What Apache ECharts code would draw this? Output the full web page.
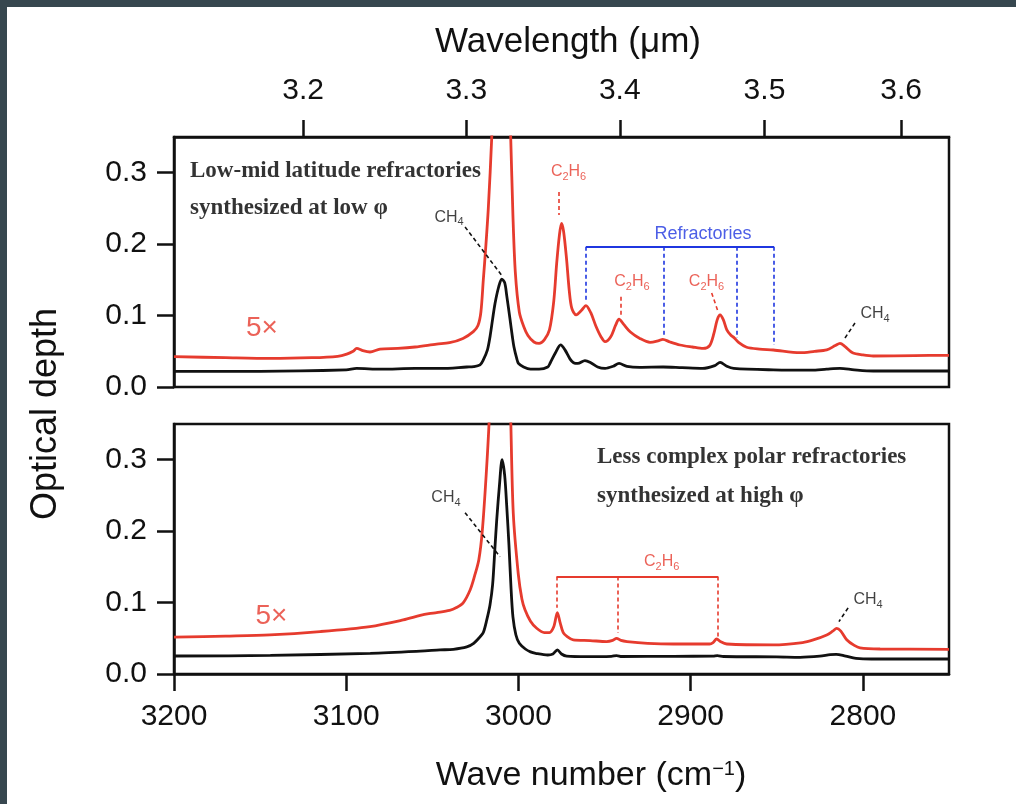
<!DOCTYPE html>
<html>
<head>
<meta charset="utf-8">
<script src="https://cdn.jsdelivr.net/npm/echarts@6.0.0/dist/echarts.min.js"></script>
<style>
  html, body { margin:0; padding:0; background:#37474f; width:1016px; height:804px; overflow:hidden; }
  #c { position:absolute; left:7px; top:7px; width:1009px; height:797px; background:#fff; }
</style>
</head>
<body>
<div id="c"></div>
<script>
// ---------- tick labels ----------
const WL_TICKS = [3.2, 3.3, 3.4, 3.5, 3.6];          // wavelength (µm), top axis
const WN_TICKS = [3200, 3100, 3000, 2900, 2800];     // wave number (cm-1), bottom axis
const OD_TICKS = [0, 0.1, 0.2, 0.3];                 // optical depth

// ---------- spectra: [wave number, optical depth] ----------
const topBlack = [[3200,0.022],[3150,0.022],[3100,0.024],[3094,0.026],[3080,0.025],[3060,0.026],[3045,0.026],[3030,0.028],[3026,0.0285],[3022.3,0.031],[3020.4,0.038],[3018,0.052],[3016.5,0.0705],[3015,0.095],[3013.6,0.117],[3011.5,0.140],[3009.7,0.151],[3008,0.146],[3006.8,0.128],[3004.9,0.095],[3003.5,0.070],[3002.6,0.056],[3001,0.040],[3000,0.033],[2997,0.028],[2993,0.025],[2988,0.025],[2983,0.028],[2981.5,0.034],[2978.5,0.048],[2975.5,0.059],[2973,0.052],[2970,0.039],[2968,0.034],[2965.5,0.033],[2961.4,0.037],[2958,0.034],[2954,0.028],[2949.7,0.026],[2945,0.029],[2941.6,0.033],[2937,0.029],[2929.5,0.0276],[2916,0.028],[2905,0.027],[2893,0.026],[2886,0.030],[2882.9,0.0345],[2879,0.029],[2875,0.026],[2852,0.024],[2830,0.0235],[2821,0.025],[2813.3,0.026],[2805,0.024],[2794,0.0224],[2750,0.0224]];

const topRed = [[3200,0.0425],[3170,0.041],[3144,0.040],[3120,0.041],[3105,0.043],[3099.7,0.046],[3096,0.050],[3093.9,0.054],[3090.5,0.051],[3086.2,0.049],[3080.4,0.053],[3070,0.054],[3060,0.056],[3047.5,0.060],[3040,0.062],[3032.2,0.068],[3026.2,0.0775],[3023.5,0.086],[3021.8,0.105],[3020.4,0.15],[3019.0,0.195],[3017.5,0.25],[3015.5,0.35],[3013,0.52],[3010,0.70],[3007,0.52],[3004.5,0.35],[3003.2,0.24],[3001.8,0.16],[2999.5,0.105],[2997,0.085],[2994.5,0.072],[2991,0.063],[2988,0.061],[2985,0.066],[2982,0.08],[2979.5,0.12],[2977.8,0.173],[2976.2,0.213],[2975.0,0.229],[2973.8,0.218],[2972.1,0.18],[2970.5,0.135],[2969,0.11],[2966.5,0.101],[2963.5,0.107],[2960.8,0.114],[2958,0.104],[2955,0.085],[2952,0.070],[2949.7,0.0635],[2946.5,0.070],[2943.5,0.087],[2941.6,0.095],[2939,0.088],[2935,0.077],[2929.5,0.068],[2923.6,0.0626],[2918.5,0.065],[2916.2,0.0668],[2912,0.063],[2906.2,0.0588],[2899,0.056],[2892.8,0.054],[2889,0.058],[2886.5,0.075],[2884.6,0.094],[2882.9,0.1008],[2881,0.094],[2879,0.080],[2876.5,0.072],[2875,0.0695],[2872,0.062],[2867.5,0.0556],[2860,0.053],[2852,0.0518],[2836.5,0.048],[2828,0.050],[2821,0.052],[2816,0.058],[2813.3,0.061],[2810.5,0.057],[2806,0.048],[2800,0.045],[2794,0.0434],[2770,0.044],[2750,0.0444]];

const botBlack = [[3200,0.0252],[3144,0.026],[3086,0.029],[3057,0.032],[3045.5,0.0337],[3037.8,0.0346],[3030,0.038],[3026,0.043],[3022.3,0.052],[3020.4,0.058],[3018.4,0.0757],[3016.5,0.097],[3015,0.125],[3013.6,0.1785],[3012.6,0.216],[3011,0.265],[3009.5,0.300],[3008,0.278],[3006.8,0.235],[3005.5,0.18],[3004.3,0.12],[3003.2,0.08],[3001.5,0.055],[2999.5,0.043],[2996,0.035],[2993,0.031],[2990,0.029],[2983,0.0266],[2980,0.028],[2977.4,0.0337],[2975,0.028],[2972,0.025],[2960,0.0243],[2946,0.0248],[2943,0.0258],[2940,0.0245],[2910,0.0248],[2887,0.025],[2884.5,0.0258],[2881,0.0245],[2850,0.024],[2836.5,0.0234],[2825,0.025],[2819,0.0272],[2815.5,0.0276],[2810,0.025],[2804,0.022],[2795,0.021],[2750,0.021]];

const botRed = [[3200,0.0515],[3170,0.053],[3144.3,0.0547],[3115.2,0.0594],[3086.2,0.0664],[3066.9,0.0757],[3057,0.082],[3052,0.0845],[3047.5,0.086],[3040,0.089],[3036,0.093],[3032,0.100],[3028,0.118],[3025.5,0.137],[3023,0.16],[3021,0.2],[3018.7,0.28],[3016.9,0.36],[3013,0.6],[3010,0.8],[3007,0.6],[3004.5,0.36],[3003,0.225],[3000.1,0.14],[2998,0.105],[2996.2,0.09],[2993,0.074],[2989.4,0.064],[2985,0.058],[2982,0.058],[2979.5,0.066],[2977.4,0.086],[2975.8,0.072],[2974,0.058],[2971.5,0.052],[2968.2,0.0477],[2958.4,0.0468],[2948.8,0.0454],[2945.3,0.047],[2943,0.050],[2940.5,0.047],[2937,0.0454],[2925,0.043],[2910,0.042],[2889,0.042],[2887,0.044],[2884.9,0.049],[2882.5,0.045],[2879,0.042],[2852,0.0407],[2835,0.044],[2828.8,0.0477],[2821,0.0547],[2817.5,0.060],[2815.2,0.064],[2812.8,0.060],[2809.4,0.048],[2805,0.040],[2801.7,0.0365],[2790,0.035],[2750,0.0346]];

// ---------- annotation texts (anchored in data coordinates) ----------
const topNotes = [
  {at:[3190.7,0.303],  text:'Low-mid latitude refractories', kind:'title'},
  {at:[3190.7,0.2507], text:'synthesized at low φ', kind:'title'},
  {at:[3148.9,0.0822], text:'5×', kind:'big'},
  {at:[3040.3,0.2377], text:'{n|CH}{s|4}', kind:'black'},
  {at:[2970.9,0.301],  text:'{n|C}{s|2}{n|H}{s|6}', kind:'red'},
  {at:[2892.8,0.2143], text:'Refractories', kind:'blue'},
  {at:[2934.1,0.147],  text:'{n|C}{s|2}{n|H}{s|6}', kind:'red'},
  {at:[2890.8,0.147],  text:'{n|C}{s|2}{n|H}{s|6}', kind:'red'},
  {at:[2792.9,0.1022], text:'{n|CH}{s|4}', kind:'black'}
];
const botNotes = [
  {at:[2954.4,0.3035], text:'Less complex polar refractories', kind:'title'},
  {at:[2954.4,0.2487], text:'synthesized at high φ', kind:'title'},
  {at:[3143.4,0.0813], text:'5×', kind:'big'},
  {at:[3042.1,0.2468], text:'{n|CH}{s|4}', kind:'black'},
  {at:[2916.8,0.157],  text:'{n|C}{s|2}{n|H}{s|6}', kind:'red'},
  {at:[2797.0,0.1038], text:'{n|CH}{s|4}', kind:'black'}
];
// leader / bracket segments: [from, to, colour key, dashed?]
const topLeaders = [
  [[3031.0,0.2241],[3009.5,0.1555],'black',true],
  [[2976.4,0.2731],[2976.4,0.2409],'red',true],
  [[2960.8,0.1965],[2851.6,0.1965],'blue',false],
  [[2960.8,0.1965],[2960.8,0.1218],'blue',true],
  [[2915.5,0.1965],[2915.5,0.0728],'blue',true],
  [[2873.3,0.1965],[2873.3,0.0686],'blue',true],
  [[2851.6,0.1965],[2851.6,0.0588],'blue',true],
  [[2940.6,0.1265],[2940.6,0.1008],'red',true],
  [[2887.8,0.1317],[2884.1,0.1055],'red',true],
  [[2804.6,0.0896],[2810.4,0.0686],'black',true]
];
const botLeaders = [
  [[3031.0,0.2258],[3010.7,0.1641],'black',true],
  [[2977.8,0.1365],[2884.1,0.1365],'red',false],
  [[2977.8,0.1365],[2977.8,0.0926],'red',true],
  [[2942.4,0.1365],[2942.4,0.0575],'red',true],
  [[2884.1,0.1365],[2884.1,0.0519],'red',true],
  [[2808.6,0.0926],[2813.9,0.0734],'black',true]
];

// ---------- styling ----------
const SANS = '"Liberation Sans", Arial, Helvetica, sans-serif';
const SERIF = '"Liberation Serif", "Times New Roman", serif';
const COL = { red:'#e63b2e', black:'#111111', blue:'#1f36e0' };
const INK = '#111111';

const rich = {
  n: { fontSize:16, fontFamily:SANS },
  s: { fontSize:11, fontFamily:SANS, padding:[10,0,0,0] }
};

function noteItem(n) {
  const lab = { show:true, formatter:n.text, position:'inside', fontFamily:SANS };
  if (n.kind === 'title') {
    Object.assign(lab, { position:'right', distance:0, fontFamily:SERIF, fontWeight:'bold', fontSize:23, color:'#000' });
  } else if (n.kind === 'big') {
    Object.assign(lab, { fontSize:28, color:COL.red });
  } else if (n.kind === 'blue') {
    Object.assign(lab, { fontSize:18, color:COL.blue });
  } else {
    Object.assign(lab, { fontSize:16, color:COL[n.kind] });
  }
  return { value:n.at, label:lab };
}
function leaderItem(l) {
  return [
    { coord:l[0], lineStyle:{ color:COL[l[2]], width: l[3] ? 1.6 : 1.8, type: l[3] ? [4,3] : 'solid' } },
    { coord:l[1] }
  ];
}

function xAxisBase(grid, pos, ticks) {
  return {
    gridIndex:grid, type:'value', position:pos, min:2750, max:3200, inverse:true,
    axisLine:{ show:true, onZero:false, lineStyle:{ color:INK, width:2.5 } },
    axisTick:{ show:true, inside:false, length:17, lineStyle:{ color:INK, width:2.5 }, customValues:ticks },
    splitLine:{ show:false }
  };
}
function yAxisBase(grid) {
  return {
    gridIndex:grid, type:'value', min:0, max:0.35,
    axisLine:{ show:true, onZero:false, lineStyle:{ color:INK, width:2.5 } },
    axisTick:{ show:true, inside:false, length:17, lineStyle:{ color:INK, width:2.5 }, customValues:OD_TICKS },
    axisLabel:{ show:true, margin:27, fontSize:30, fontFamily:SANS, color:INK, customValues:OD_TICKS, formatter:v => v.toFixed(1) },
    splitLine:{ show:false }
  };
}

const wlTickPos = WL_TICKS.map(w => 1e4 / w);

const xTop = xAxisBase(0, 'top', wlTickPos);
Object.assign(xTop, {
  name:'Wavelength (μm)', nameLocation:'middle', nameGap:77,
  nameTextStyle:{ fontSize:35, fontFamily:SANS, color:INK, padding:[0,0,0,13] },
  axisLabel:{ show:true, margin:31, fontSize:30, fontFamily:SANS, color:INK, customValues:wlTickPos, formatter:v => (1e4 / v).toFixed(1) }
});
const xBot = xAxisBase(1, 'bottom', WN_TICKS);
Object.assign(xBot, {
  name:'Wave number (cm{sup|−1})', nameLocation:'middle', nameGap:85,
  nameTextStyle:{ fontSize:34, fontFamily:SANS, color:INK, padding:[0,0,0,59],
    rich:{ sup:{ fontSize:20, fontFamily:SANS, color:INK, padding:[0,0,14,0] } } },
  axisLabel:{ show:true, margin:28, fontSize:30, fontFamily:SANS, color:INK, customValues:WN_TICKS, formatter:v => String(v) }
});

function spectrum(data, grid, colour) {
  return {
    type:'line', xAxisIndex:grid, yAxisIndex:grid, data:data, showSymbol:false,
    smooth:0.3, clip:true, silent:true,
    lineStyle:{ color:colour, width:2.8 }, itemStyle:{ color:colour }, z:2
  };
}
function notes(items, leaders, grid) {
  return {
    type:'scatter', xAxisIndex:grid, yAxisIndex:grid, symbolSize:0, silent:true, z:5,
    label:{ show:true, rich:rich },
    emphasis:{ disabled:true },
    data: items.map(noteItem),
    markLine:{ silent:true, symbol:['none','none'], label:{ show:false }, animation:false,
      data: leaders.map(leaderItem) }
  };
}

const chart = echarts.init(document.getElementById('c'), null, { renderer:'canvas' });
chart.setOption({
  animation:false,
  backgroundColor:'#ffffff',
  grid:[
    { left:167, top:130, width:775, height:250, show:true, borderColor:INK, borderWidth:2.5 },
    { left:167, top:417, width:775, height:250, show:true, borderColor:INK, borderWidth:2.5 }
  ],
  xAxis:[ xTop, xBot ],
  yAxis:[ yAxisBase(0), yAxisBase(1) ],
  graphic:[
    { type:'text', x:39, y:407, rotation:Math.PI/2,
      style:{ text:'Optical depth', fontSize:36, fontFamily:SANS, fill:INK, align:'center', verticalAlign:'middle' } }
  ],
  series:[
    spectrum(topRed, 0, COL.red),
    spectrum(topBlack, 0, COL.black),
    spectrum(botRed, 1, COL.red),
    spectrum(botBlack, 1, COL.black),
    notes(topNotes, topLeaders, 0),
    notes(botNotes, botLeaders, 1)
  ]
});
</script>
</body>
</html>
